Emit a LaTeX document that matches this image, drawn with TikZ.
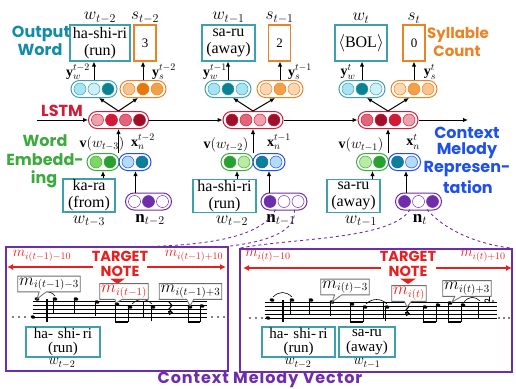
\documentclass[tikz,border=0pt]{standalone}
\usepackage{fontspec}
\setmainfont{Liberation Serif}
\newfontfamily\labfont{Poppins}
\newfontfamily\widefont{Poppins}[LetterSpace=6]
\usetikzlibrary{arrows.meta,shapes.misc,shapes.callouts,calc}

% palette
\definecolor{tealT}{RGB}{20,140,165}
\definecolor{tealB}{RGB}{60,160,175}
\definecolor{orT}{RGB}{235,130,35}
\definecolor{crimT}{RGB}{205,30,60}
\definecolor{greenT}{RGB}{60,170,60}
\definecolor{blueT}{RGB}{30,80,235}
\definecolor{purp}{RGB}{110,45,170}
\definecolor{redT}{RGB}{235,30,30}
\definecolor{cyanL}{RGB}{165,228,245}
\definecolor{cyanLL}{RGB}{205,240,250}
\definecolor{tealD}{RGB}{10,130,150}
\definecolor{orL}{RGB}{250,195,140}
\definecolor{orLL}{RGB}{252,215,180}
\definecolor{orD}{RGB}{230,120,10}
\definecolor{orM}{RGB}{245,160,70}
\definecolor{pinkL}{RGB}{240,160,172}
\definecolor{crimD}{RGB}{210,25,55}
\definecolor{pinkM}{RGB}{230,100,120}
\definecolor{redD}{RGB}{160,15,40}
\definecolor{grL}{RGB}{125,215,100}
\definecolor{grD}{RGB}{40,160,50}
\definecolor{grLL}{RGB}{185,235,160}
\definecolor{blL}{RGB}{180,220,250}
\definecolor{cgray}{RGB}{110,110,110}

% a pill of coloured dots: name, centre, number of dots, border colour, dot colours
\newcommand\pill[5]{%
  \node[pillbox, draw=#4, minimum width={#3*14+4}] (#1) at (#2) {};
  \foreach \c [count=\i] in {#5}
    \node[dot, fill=\c, draw=#4] at ($(#1)+({(\i-(#3+1)/2)*14},0)$) {};
}
% note heads and stems
\newcommand\nh[2]{\fill[rotate around={-20:(#1,#2)}] (#1,#2) ellipse (2.4 and 1.7);}
\newcommand\ns[2]{\nh{#1}{#2}\draw[line width=.6pt] (#1-2.1,#2+0.5) -- (#1-2.1,#2+14);}
\newcommand\nb[3]{\nh{#1}{#2}\draw[line width=.6pt] (#1-2.1,#2+0.5) -- (#1-2.1,#3);}

\begin{document}
\begin{tikzpicture}[x=1pt,y=-1pt,
  wordbox/.style={draw=tealB, line width=1.1pt, align=center, inner sep=0pt,
    minimum height=36pt, font=\fontsize{16}{17}\selectfont},
  smallbox/.style={draw=tealB, line width=1.1pt, align=center, inner sep=0pt,
    minimum height=33pt, font=\fontsize{16}{17}\selectfont},
  lowbox/.style={draw=tealB, line width=1.1pt, align=center, inner sep=0pt,
    minimum height=30pt, font=\fontsize{15}{14.5}\selectfont},
  cntbox/.style={draw=orT, line width=1.1pt, inner sep=0pt, minimum width=22pt,
    minimum height=36pt, font=\fontsize{13}{13}\selectfont},
  pillbox/.style={rounded rectangle, line width=1pt, minimum height=17pt, inner sep=0pt},
  dot/.style={circle, minimum size=12pt, inner sep=0pt, line width=.5pt},
  arr/.style={-{Latex[length=5pt,width=4.5pt]}, line width=1pt},
  mlab/.style={inner sep=1pt, font=\fontsize{17}{17}\selectfont},
  blab/.style={inner sep=0pt, font=\fontsize{14.5}{14.5}\selectfont},
  vlab/.style={inner sep=0pt, font=\fontsize{14}{14}\selectfont},
  side/.style={inner sep=0pt, font=\labfont\bfseries\fontsize{16}{16}\selectfont},
  tgt/.style={inner sep=0pt, text=redT, font=\labfont\bfseries\fontsize{14.5}{14.5}\selectfont},
  call/.style={rectangle callout, draw=cgray, fill=white, line width=.8pt,
    inner sep=1.5pt, callout pointer width=7pt, font=\fontsize{16}{16}\selectfont},
  rarr/.style={-{Latex[length=6pt,width=6pt]}, draw=redT, line width=1.2pt},
  rlab/.style={inner sep=0pt, text=redT, font=\fontsize{14.5}{14.5}\selectfont},
  dsh/.style={draw=purp, dashed, line width=.9pt}
]
\useasboundingbox (0,0) rectangle (516,388);

% ---------- output boxes ----------
\node[wordbox, minimum width=60] (W1) at (100,43) {ha-shi-ri\\(run)};
\node[cntbox] (S1) at (145,43) {3};
\node[wordbox, minimum width=53] (W2) at (228.5,43) {sa-ru\\(away)};
\node[cntbox] (S2) at (279.5,43) {2};
\node[wordbox, minimum width=52] (W3) at (361,43) {$\langle$BOL$\rangle$};
\node[cntbox] (S3) at (414,43) {0};

\node[mlab, anchor=south] (W1t) at (W1.north) {$w_{t-2}$};
\node[mlab, anchor=south] (S1t) at (S1.north) {$s_{t-2}$};
\node[mlab, anchor=south] (W2t) at (W2.north) {$w_{t-1}$};
\node[mlab, anchor=south] (S2t) at (S2.north) {$s_{t-1}$};
\node[mlab, anchor=south] (W3t) at (W3.north) {$w_{t}$};
\node[mlab, anchor=south] (S3t) at (S3.north) {$s_{t}$};

% ---------- output distributions ----------
\pill{YW1}{94,89}{3}{tealB}{cyanL,cyanLL,tealD}
\pill{YS1}{143,89}{3}{orT}{orL,orD,orM}
\pill{YW2}{228,89}{3}{tealB}{cyanL,tealD,cyanL}
\pill{YS2}{280,89}{3}{orT}{orLL,orM,orLL}
\pill{YW3}{362,89}{3}{tealB}{cyanL,tealD,cyanLL}
\pill{YS3}{414,89}{3}{orT}{orLL,orM,orL}

\node[vlab] (YW1l) at (78,72) {$\mathbf{y}_w^{t-2}$};
\node[vlab] (YS1l) at (164,72) {$\mathbf{y}_s^{t-2}$};
\node[vlab] (YW2l) at (215,72) {$\mathbf{y}_w^{t-1}$};
\node[vlab] (YS2l) at (300,72) {$\mathbf{y}_s^{t-1}$};
\node[vlab] (YW3l) at (348,72) {$\mathbf{y}_w^{t}$};
\node[vlab] (YS3l) at (430,72) {$\mathbf{y}_s^{t}$};

\foreach \p/\b in {YW1/W1,YS1/S1,YW2/W2,YS2/S2,YW3/W3,YS3/S3}
  \draw[arr] (\p.north) -- (\p.north |- \b.south);

% ---------- LSTM ----------
\pill{L1}{118.5,120}{4}{crimT}{pinkL,crimD,pinkM,redD}
\pill{L2}{253,120}{4}{crimT}{redD,pinkM,pinkL,redD}
\pill{L3}{388,120}{4}{crimT}{pinkM,redD,crimD,pinkL}

\coordinate (Lin) at (37,120);
\coordinate (Lout) at (468,120);
\draw[arr] (Lin) -- (L1.west);
\draw[arr] (L1.east) -- (L2.west);
\draw[arr] (L2.east) -- (L3.west);
\draw[arr] (L3.east) -- (Lout);

\foreach \l/\w/\s in {L1/YW1/YS1,L2/YW2/YS2,L3/YW3/YS3}{
  \draw[arr] (\l.north) -- ([xshift=5pt]\w.south);
  \draw[arr] (\l.north) -- ([xshift=-5pt]\s.south);
}

% ---------- inputs ----------
\pill{G1}{103,162}{2}{greenT}{grL,grD}
\pill{B1}{135,162}{2}{blueT}{blL,tealD}
\pill{G2}{237,162}{2}{greenT}{grD,grLL}
\pill{B2}{269,162}{2}{blueT}{tealD,blL}
\pill{G3}{372.5,162}{2}{greenT}{grLL,grD}
\pill{B3}{404.5,162}{2}{blueT}{tealD,blL}

\foreach \l/\g in {L1/G1,L2/G2,L3/G3}
  \draw[arr] (\l.south |- \g.north) -- (\l.south);

\node[vlab] (V1) at (102,144) {$\mathbf{v}(w_{t-3})$};
\node[vlab] (X1) at (143,142) {$\mathbf{x}_n^{t-2}$};
\node[vlab] (V2) at (226,145) {$\mathbf{v}(w_{t-2})$};
\node[vlab] (X2) at (279,142) {$\mathbf{x}_n^{t-1}$};
\node[vlab] (V3) at (361,145) {$\mathbf{v}(w_{t-1})$};
\node[vlab] (X3) at (413,142) {$\mathbf{x}_n^{t}$};

\node[smallbox, minimum width=52] (E1) at (89,195.5) {ka-ra\\(from)};
\node[smallbox, minimum width=63] (E2) at (224.5,196) {ha-shi-ri\\(run)};
\node[smallbox, minimum width=53] (E3) at (353.5,196) {sa-ru\\(away)};

\node[mlab, anchor=north] (E1l) at (89,214.5) {$w_{t-3}$};
\node[mlab, anchor=north] (E2l) at (232,214.5) {$w_{t-2}$};
\node[mlab, anchor=north] (E3l) at (361,214.5) {$w_{t-1}$};

\foreach \e/\g in {E1/G1,E2/G2,E3/G3}
  \draw[arr] (\e.north -| \g.south) -- (\g.south);

\pill{N1}{148.5,201.5}{3}{purp}{white,purp,white}
\pill{N2}{284,201.5}{3}{purp}{purp,white,white}
\pill{N3}{418.5,201.5}{3}{purp}{purp,white,purp}

\node[mlab, anchor=north] (N1l) at (150,213) {$\mathbf{n}_{t-2}$};
\node[mlab, anchor=north] (N2l) at (281,213) {$\mathbf{n}_{t-1}$};
\node[mlab, anchor=north] (N3l) at (420,213) {$\mathbf{n}_{t}$};

\draw[arr] ([xshift=-13pt]N1.north) -- ([xshift=-13pt]N1.north |- B1.south);
\draw[arr] ([xshift=-15pt]N2.north) -- ([xshift=-15pt]N2.north |- B2.south);
\draw[arr] ([xshift=-12.5pt]N3.north) -- ([xshift=-12.5pt]N3.north |- B3.south);

% ---------- side captions ----------
\node[side, text=tealT] (cap1) at (41,34) {Output};
\node[side, text=tealT] (cap2) at (40,50) {Word};
\node[side, text=crimT] (cap3) at (62,111) {LSTM};
\node[side, text=greenT] (cap4) at (45,141) {Word};
\node[side, text=greenT] (cap5) at (45,160) {Embedd-};
\node[side, text=greenT] (cap6) at (44,179) {ing};
\node[side, text=orT, font=\labfont\bfseries\fontsize{15}{15}\selectfont] (cap7) at (458,35) {Syllable};
\node[side, text=orT, font=\labfont\bfseries\fontsize{15}{15}\selectfont] (cap8) at (457,51) {Count};
\node[side, text=blueT] (cap9) at (467,133) {Context};
\node[side, text=blueT] (cap10) at (467,151) {Melody};
\node[side, text=blueT] (cap11) at (467,169) {Represen-};
\node[side, text=blueT] (cap12) at (468,187) {tation};

% ---------- context melody panels ----------
\node[draw=purp, line width=1.5pt, minimum width=222, minimum height=124, inner sep=0pt]
  (P1) at (117,309) {};
\node[draw=purp, line width=1.5pt, minimum width=272, minimum height=123, inner sep=0pt]
  (P2) at (376,310.5) {};
\node[side, anchor=base, text=purp, font=\widefont\bfseries\fontsize{16}{16}\selectfont] (cap13) at (260,383.3) {Context Melody Vector};

% projections of the note vectors
\draw[dsh] (N2.south west) ++(6,-1) .. controls (262,238) and (205,246) .. (130,247);
\draw[dsh] (N2.south east) ++(-4,-1) .. controls (298,238) and (245,244) .. (P1.north east);
\draw[dsh] (N3.south west) ++(6,-1) .. controls (392,240) and (290,238) .. (P2.north west);
\draw[dsh] (N3.south east) ++(-6,-1) .. controls (450,236) and (490,246) .. (P2.north east);

% ----- left panel -----
\node[rlab] (r1) at (42,256) {$m_{i(t-1)-10}$};
\node[rlab] (r2) at (194,256) {$m_{i(t-1)+10}$};
\node[tgt] (tg1) at (120,256) {TARGET};
\node[tgt] (nt1) at (120,271) {NOTE};
\coordinate (a1) at (7,267);
\coordinate (a2) at (226,267);
\draw[rarr] (93,267) -- (a1);
\draw[rarr] (147,267) -- (a2);
\fill[redT] (110,278.5) -- (125,278.5) -- (117.5,284) -- cycle;

\foreach \k in {0,...,4} \draw[line width=.45pt] (33,301+4*\k) -- (207,301+4*\k);
\foreach \x in {13,19,25,212,218,224} \fill (\x,317) circle (0.9);
\nh{33}{317}
\nh{37}{299}
\draw[line width=1.1pt] (47,299) -- (47,322);
\ns{55}{299}
\ns{76}{299}
\ns{97}{302}
\nb{117}{304}{322}
\nb{130}{307}{322}
\draw[line width=1.6pt] (114.9,322) -- (127.9,322);
\draw[line width=.6pt] (38,296) .. controls (43,290) and (50,290) .. (55,296);
\draw[line width=.6pt] (132,304) .. controls (138,298) and (146,298) .. (152,304);
\draw[line width=.6pt] (143,301) -- (143,317);
\ns{153}{307}
\draw[line width=1.1pt] (169,302) -- (172,305.5) -- (169,309) -- (172,312.5) .. controls (168,311) .. (170,315);
\nb{190}{307}{322}
\nb{202}{306}{322}
\draw[line width=1.6pt] (187.9,322) -- (199.9,322);

\node[call, callout absolute pointer={(37,299)}] (c1) at (49,284) {$m_{i(t-1)-3}$};
\node[call, text=redT, callout absolute pointer={(116,303)}] (c2) at (124,291.5) {$m_{i(t-1)}$};
\node[call, callout absolute pointer={(190,306)}] (c3) at (190.5,291.5) {$m_{i(t-1)+3}$};

\node[lowbox, minimum width=74] (F1) at (63,342) {ha-\,\,shi-\,ri\\(run)};
\node[blab, anchor=north] (F1l) at (62,358.5) {$w_{t-2}$};

% ----- right panel -----
\node[rlab] (r3) at (268,256) {$m_{i(t)-10}$};
\node[rlab] (r4) at (483,256) {$m_{i(t)+10}$};
\node[tgt] (tg2) at (408,256) {TARGET};
\node[tgt] (nt2) at (408,271) {NOTE};
\coordinate (a3) at (243,268);
\coordinate (a4) at (512,268);
\draw[rarr] (381,268) -- (a3);
\draw[rarr] (436,268) -- (a4);
\fill[redT] (400,278.5) -- (416,278.5) -- (408,284) -- cycle;

\foreach \k in {0,...,4} \draw[line width=.45pt] (265,302+4*\k) -- (497,302+4*\k);
\foreach \x in {250,256,262,499,504,509} \fill (\x,318) circle (0.9);
\nh{268}{318}
\nh{272}{300}
\draw[line width=1.1pt] (283,300) -- (283,322);
\ns{292}{300}
\ns{311}{300}
\ns{332}{302}
\nb{352}{304}{322}
\nb{365}{307}{322}
\draw[line width=1.6pt] (349.9,322) -- (362.9,322);
\draw[line width=.6pt] (273,297) .. controls (279,291) and (286,291) .. (292,297);
\draw[line width=.6pt] (366,304) .. controls (372,298) and (381,298) .. (387,304);
\draw[line width=.6pt] (383,302) -- (383,318);
\ns{387}{307}
\draw[line width=1.1pt] (406,303) -- (409,306.5) -- (406,310) -- (409,313.5) .. controls (405,312) .. (407,316);
\nb{425}{307}{322}
\nb{438}{305}{322}
\draw[line width=1.6pt] (422.9,322) -- (435.9,322);
\nb{450}{303}{322}
\nb{463}{305}{322}
\draw[line width=1.6pt] (447.9,322) -- (460.9,322);
\draw[line width=.6pt] (464,302) .. controls (469,296) and (475,296) .. (480,301);
\draw[line width=.6pt] (478,302) -- (478,318);
\draw[line width=.7pt, rotate around={-20:(487,301)}] (487,301) ellipse (2.4 and 1.7);
\draw[line width=.6pt] (489.3,301) -- (489.3,288);
\fill (493,301) circle (0.8);

\node[call, callout absolute pointer={(332,302)}] (c4) at (345,287) {$m_{i(t)-3}$};
\node[call, text=redT, callout absolute pointer={(407,307)}] (c5) at (409,293.5) {$m_{i(t)}$};
\node[call, callout absolute pointer={(452,302)}] (c6) at (467,288.5) {$m_{i(t)+3}$};

\node[lowbox, minimum width=73] (F2) at (298.5,342) {ha-\,\,shi-\,ri\\(run)};
\node[lowbox, minimum width=56] (F3) at (367,342) {sa-ru\\(away)};
\node[blab, anchor=north] (F2l) at (298,358.5) {$w_{t-2}$};
\node[blab, anchor=north] (F3l) at (367,358.5) {$w_{t-1}$};
\end{tikzpicture}
\end{document}
